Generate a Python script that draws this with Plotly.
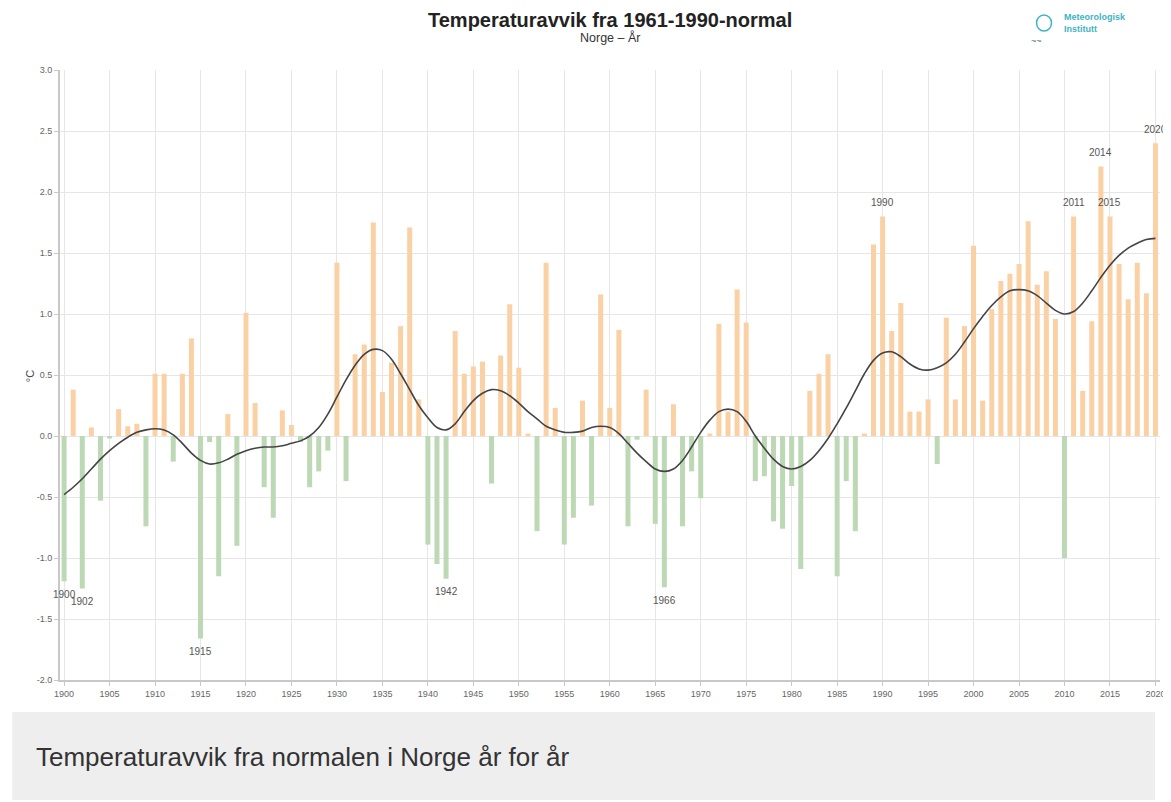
import plotly.graph_objects as go

years = list(range(1900, 2021))
anomaly = [
    -1.19, 0.38, -1.25, 0.07, -0.53, -0.02, 0.22, 0.08, 0.10, -0.74,   # 1900-1909
    0.51, 0.51, -0.21, 0.51, 0.80, -1.66, -0.05, -1.15, 0.18, -0.90,    # 1910-1919
    1.01, 0.27, -0.42, -0.67, 0.21, 0.09, -0.05, -0.42, -0.29, -0.12,   # 1920-1929
    1.42, -0.37, 0.67, 0.75, 1.75, 0.36, 0.60, 0.90, 1.71, 0.30,        # 1930-1939
    -0.89, -1.05, -1.17, 0.86, 0.51, 0.57, 0.61, -0.39, 0.66, 1.08,     # 1940-1949
    0.56, 0.02, -0.78, 1.42, 0.23, -0.89, -0.67, 0.29, -0.57, 1.16,     # 1950-1959
    0.23, 0.87, -0.74, -0.03, 0.38, -0.72, -1.24, 0.26, -0.74, -0.29,   # 1960-1969
    -0.51, 0.02, 0.92, 0.20, 1.20, 0.93, -0.37, -0.33, -0.70, -0.76,    # 1970-1979
    -0.41, -1.09, 0.37, 0.51, 0.67, -1.15, -0.37, -0.78, 0.02, 1.57,    # 1980-1989
    1.80, 0.86, 1.09, 0.20, 0.20, 0.30, -0.23, 0.97, 0.30, 0.90,        # 1990-1999
    1.56, 0.29, 1.04, 1.27, 1.33, 1.41, 1.76, 1.24, 1.35, 0.96,         # 2000-2009
    -1.00, 1.80, 0.37, 0.94, 2.21, 1.80, 1.41, 1.12, 1.42, 1.17,        # 2010-2019
    2.40,                                                               # 2020
]
smooth = [
    -0.48, -0.42, -0.35, -0.27, -0.19, -0.12, -0.06, -0.01, 0.03, 0.05,
    0.06, 0.05, 0.01, -0.06, -0.14, -0.20, -0.23, -0.22, -0.19, -0.15,
    -0.12, -0.10, -0.09, -0.09, -0.08, -0.06, -0.04, 0.00, 0.07, 0.18,
    0.32, 0.46, 0.58, 0.67, 0.71, 0.70, 0.63, 0.51, 0.38, 0.25,
    0.15, 0.07, 0.05, 0.10, 0.20, 0.29, 0.35, 0.38, 0.37, 0.33,
    0.27, 0.20, 0.14, 0.08, 0.05, 0.03, 0.03, 0.04, 0.07, 0.08,
    0.07, 0.02, -0.06, -0.14, -0.21, -0.27, -0.29, -0.27, -0.20, -0.09,
    0.03, 0.13, 0.20, 0.22, 0.20, 0.12, 0.00, -0.10, -0.19, -0.25,
    -0.27, -0.25, -0.20, -0.12, -0.02, 0.10, 0.23, 0.37, 0.51, 0.62,
    0.68, 0.69, 0.65, 0.59, 0.55, 0.54, 0.56, 0.60, 0.67, 0.77,
    0.88, 0.98, 1.07, 1.14, 1.19, 1.20, 1.19, 1.15, 1.09, 1.03,
    1.00, 1.02, 1.09, 1.19, 1.30, 1.40, 1.48, 1.54, 1.58, 1.61,
    1.62,
]
label_years = [1900, 1902, 1915, 1942, 1966, 1990, 2011, 2014, 2015, 2020]
x_ticks = list(range(1900, 2021, 5))
y_ticks = [-2.0, -1.5, -1.0, -0.5, 0.0, 0.5, 1.0, 1.5, 2.0, 2.5, 3.0]

WARM = "rgb(250,208,165)"
COLD = "rgb(188,216,180)"
colors = [WARM if v >= 0 else COLD for v in anomaly]
FONT = "Liberation Sans, Arial"

# page-pixel helpers (page has an 8px body margin; plot area spans x 60..1165, y 70..680)
def px(x):
    return (x - 60) / 1105


def py(y):
    return (680 - y) / 610


fig = go.Figure()
fig.add_trace(go.Bar(x=years, y=anomaly, marker=dict(color=colors, line=dict(width=0)),
                     width=0.55, showlegend=False))
fig.add_trace(go.Scatter(x=years, y=smooth, mode="lines",
                         line=dict(color="#444444", width=1.6, shape="spline"),
                         showlegend=False))

for yr in label_years:
    v = anomaly[years.index(yr)]
    fig.add_annotation(x=yr, y=v, text=str(yr), showarrow=False,
                       yshift=(14 if v > 0 else -13),
                       font=dict(size=10, color="#555555", family=FONT))

# titles
fig.add_annotation(xref="paper", yref="paper", x=0.5, y=py(20), yanchor="middle",
                   text="<b>Temperaturavvik fra 1961-1990-normal</b>", showarrow=False,
                   font=dict(size=20, color="#222222", family=FONT))
fig.add_annotation(xref="paper", yref="paper", x=0.5, y=py(38), yanchor="middle",
                   text="Norge – År", showarrow=False,
                   font=dict(size=12.5, color="#333333", family=FONT))

# logo
fig.add_shape(type="circle", xref="paper", yref="paper",
              x0=px(1041), x1=px(1056), y0=py(31), y1=py(15),
              line=dict(color="#3fb3c4", width=1.5))
fig.add_annotation(xref="paper", yref="paper", x=px(1048), y=py(41), yanchor="middle",
                   text="~~", showarrow=False,
                   font=dict(size=9, color="#3a6f7a", family=FONT))
fig.add_annotation(xref="paper", yref="paper", x=px(1067), y=py(23), yanchor="middle",
                   xanchor="left", align="left",
                   text="<b>Meteorologisk<br>Institutt</b>", showarrow=False,
                   font=dict(size=9, color="#3fb3c4", family=FONT))

# y-axis title
fig.add_annotation(xref="paper", yref="paper", x=px(22), y=py(376), textangle=-90,
                   text="°C", showarrow=False,
                   font=dict(size=11, color="#444444", family=FONT))

# bottom caption box
fig.add_shape(type="rect", xref="paper", yref="paper", layer="below",
              x0=px(12), x1=px(1160), y0=py(800), y1=py(712),
              fillcolor="#eeeeee", line=dict(width=0))
fig.add_annotation(xref="paper", yref="paper", x=px(34), y=py(757), yanchor="middle",
                   xanchor="left", text="Temperaturavvik fra normalen i Norge år for år",
                   showarrow=False,
                   font=dict(size=26, color="#333333", family=FONT))

fig.update_layout(
    width=1163, height=794,
    margin=dict(l=52, r=6, t=62, b=122),
    paper_bgcolor="white", plot_bgcolor="white",
    bargap=0.4,
    xaxis=dict(range=[1899.55, 2020.5], tickmode="array", tickvals=x_ticks,
               ticktext=[str(t) for t in x_ticks],
               showgrid=True, gridcolor="#e6e6e6", gridwidth=1,
               showline=True, linecolor="#c8c8c8", linewidth=2,
               ticks="outside", ticklen=4, tickcolor="#c8c8c8",
               tickfont=dict(size=9, color="#666666", family=FONT),
               zeroline=False),
    yaxis=dict(range=[-2.0, 3.0], tickmode="array", tickvals=y_ticks,
               ticktext=[f"{t:.1f}" for t in y_ticks],
               showgrid=True, gridcolor="#e6e6e6", gridwidth=1,
               showline=True, linecolor="#c8c8c8", linewidth=2,
               ticks="outside", ticklen=4, tickcolor="#c8c8c8",
               tickfont=dict(size=9, color="#666666", family=FONT),
               zeroline=False),
)

fig.write_html("out.html")
